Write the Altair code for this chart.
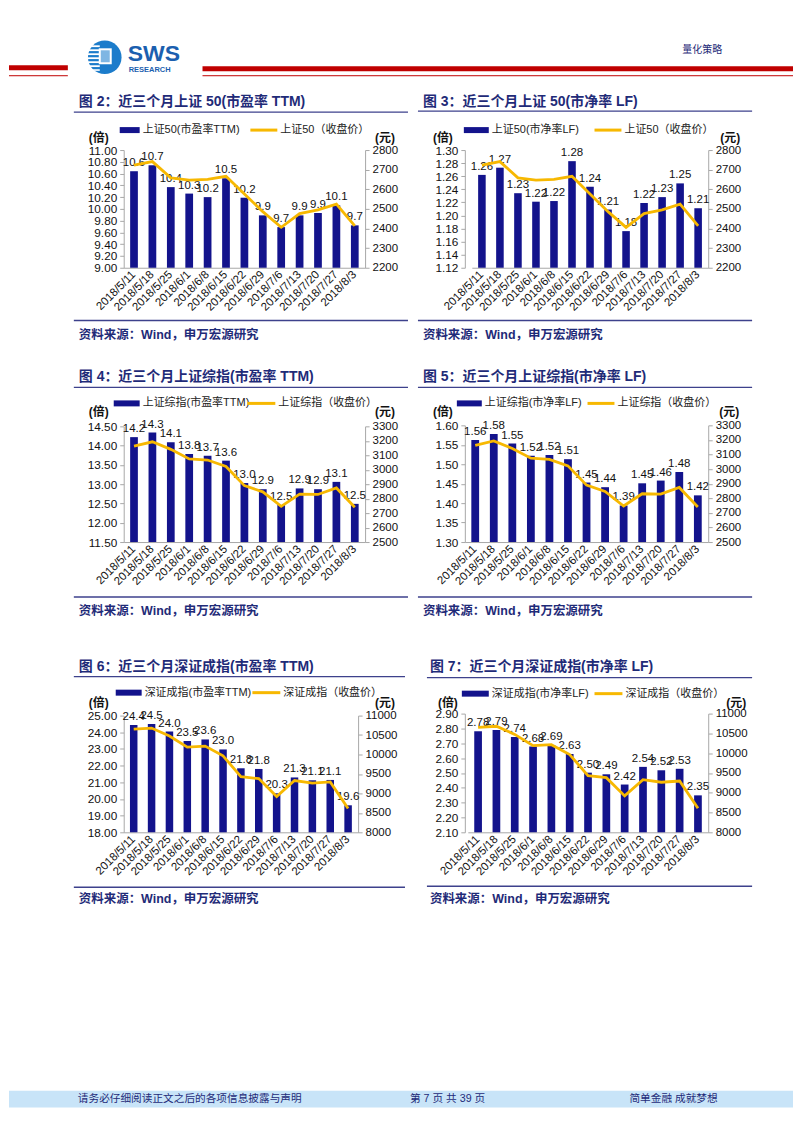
import altair as alt
import pandas as pd

# ---------------- data ----------------
dates = ["2018/5/11", "2018/5/18", "2018/5/25", "2018/6/1", "2018/6/8", "2018/6/15",
         "2018/6/22", "2018/6/29", "2018/7/6", "2018/7/13", "2018/7/20", "2018/7/27", "2018/8/3"]

sz50_close = [2723, 2741, 2658, 2647, 2650, 2666, 2576, 2486, 2406, 2476, 2495, 2524, 2413]
sh_close = [3163, 3193, 3141, 3075, 3067, 3022, 2890, 2847, 2747, 2831, 2829, 2874, 2740]
sz_close = [10650, 10680, 10475, 10190, 10215, 9965, 9430, 9380, 8920, 9330, 9265, 9295, 8610]

pe_sz50 = [10.64, 10.74, 10.37, 10.26, 10.20, 10.52, 10.19, 9.89, 9.69, 9.89, 9.93, 10.06, 9.72]
pb_sz50 = [1.262, 1.273, 1.234, 1.221, 1.222, 1.283, 1.244, 1.209, 1.176, 1.219, 1.228, 1.249, 1.211]
pe_sh = [14.22, 14.34, 14.09, 13.78, 13.74, 13.61, 13.03, 12.87, 12.46, 12.89, 12.87, 13.06, 12.49]
pb_sh = [1.562, 1.578, 1.553, 1.522, 1.524, 1.513, 1.453, 1.441, 1.394, 1.451, 1.458, 1.480, 1.420]
pe_sz = [24.43, 24.50, 24.04, 23.48, 23.57, 22.97, 21.84, 21.80, 20.34, 21.29, 21.12, 21.14, 19.62]
pb_sz = [2.781, 2.789, 2.742, 2.678, 2.688, 2.628, 2.502, 2.491, 2.422, 2.541, 2.518, 2.528, 2.349]

ticks_pe_sz50 = [9.0, 9.2, 9.4, 9.6, 9.8, 10.0, 10.2, 10.4, 10.6, 10.8, 11.0]
ticks_pb_sz50 = [1.12, 1.14, 1.16, 1.18, 1.20, 1.22, 1.24, 1.26, 1.28, 1.30]
ticks_pe_sh = [11.5, 12.0, 12.5, 13.0, 13.5, 14.0, 14.5]
ticks_pb_sh = [1.30, 1.35, 1.40, 1.45, 1.50, 1.55, 1.60]
ticks_pe_sz = [18, 19, 20, 21, 22, 23, 24, 25]
ticks_pb_sz = [2.1, 2.2, 2.3, 2.4, 2.5, 2.6, 2.7, 2.8, 2.9]
ticks_sz50 = [2200, 2300, 2400, 2500, 2600, 2700, 2800]
ticks_sh = [2500, 2600, 2700, 2800, 2900, 3000, 3100, 3200, 3300]
ticks_sz = [8000, 8500, 9000, 9500, 10000, 10500, 11000]

# ---------------- styles ----------------
NAVY = "#13138c"
GOLD = "#F7B801"
TNAVY = "#1f2b78"
RULE = "#3d418c"
AXG = "#a8a8a8"
RED = "#C00000"
LAT = "Liberation Sans"
CJK = "Liberation Sans, Noto Sans CJK SC"
ONE = alt.Data(values=[{"k": 1}])


def T(o, x, y, s, size=11, weight="normal", color="#222222", align="left", font=CJK):
    return alt.Chart(ONE).mark_text(align=align, baseline="middle", fontSize=size,
                                    fontWeight=weight, color=color, font=font).encode(
        x=alt.value(x - o[0]), y=alt.value(y - o[1]), text=alt.value(s))


def R(o, x1, x2, y, color=RULE, w=1.2):
    return alt.Chart(ONE).mark_rule(color=color, strokeWidth=w).encode(
        x=alt.value(x1 - o[0]), x2=alt.value(x2 - o[0]), y=alt.value(y - o[1]))


def B(o, x1, y1, x2, y2, color):
    return alt.Chart(ONE).mark_rect(color=color).encode(
        x=alt.value(x1 - o[0]), x2=alt.value(x2 - o[0]),
        y=alt.value(y1 - o[1]), y2=alt.value(y2 - o[1]))


def panel(p):
    o = p["origin"]
    W, H = p["size"]
    df = pd.DataFrame({"date": dates, "bar": p["bars"], "close": p["close"]})
    lo, hi = p["dom"]
    xenc = alt.X("date:N", sort=dates,
                 scale=alt.Scale(domain=dates, range=[p["left"], W], paddingInner=0.58, paddingOuter=0.35),
                 axis=alt.Axis(title=None, labelAngle=315, labelAlign="right", labelBaseline="middle",
                               ticks=False, domainColor=AXG, labelFont=LAT, labelFontSize=11.5,
                               labelColor="#111111", labelPadding=5, labelOverlap=False))
    yenc = alt.Y("bar:Q", scale=alt.Scale(domain=[lo, hi], range=[H, p["top"]], zero=False, nice=False),
                 axis=alt.Axis(title=None, values=p["ticks"], format=".2f", grid=False,
                               domainColor=AXG, tickColor=AXG, tickSize=4, labelFont=LAT,
                               labelFontSize=11.8, labelColor="#111111", labelPadding=3,
                               labelOverlap=False))
    base = alt.Chart(df).encode(x=xenc, y=yenc)
    bars = base.mark_bar(color=NAVY).encode(y2=alt.datum(lo))
    labels = base.mark_text(baseline="bottom", dy=-3, fontSize=11.5, font=LAT, color="#111111").encode(
        text=alt.Text("bar:Q", format=p["lfmt"]))
    rlo, rhi = p["rdom"]
    line = alt.Chart(df).mark_line(color=GOLD, strokeWidth=2.8).encode(
        x=xenc,
        y=alt.Y("close:Q", scale=alt.Scale(domain=[rlo, rhi], range=[H, p["top"]], zero=False, nice=False),
                axis=alt.Axis(title=None, orient="right", values=p["rticks"], format="d", grid=False,
                              domainColor=AXG, tickColor=AXG, tickSize=4, labelFont=LAT,
                              labelFontSize=11.5, labelColor="#111111", labelPadding=3,
                              labelOverlap=False)))
    d = p["deco"]
    decos = [
        T(o, d["tx"], d["ty"], d["title"], size=14, weight="bold", color=TNAVY),
        R(o, d["ux1"], d["ux2"], d["uy"]),
        B(o, d["lb"][0], d["lb"][1] - 3, d["lb"][2], d["lb"][1] + 3, NAVY),
        T(o, d["lb"][2] + 3, d["lb"][1], d["l1"], size=11),
        R(o, d["ll"][0], d["ll"][1], d["ll"][2], color=GOLD, w=3),
        T(o, d["ll"][1] + 3, d["ll"][2], d["l2"], size=11),
        T(o, d["bei"][0], d["bei"][1], "(倍)", size=12, weight="bold", color="#111111", align="center"),
        T(o, d["yuan"][0], d["yuan"][1], "(元)", size=12, weight="bold", color="#111111", align="center"),
        R(o, d["ux1"], d["ux2"], d["by"], w=1.5),
        T(o, d["tx"], d["sy"], "资料来源：Wind，申万宏源研究", size=12.5, weight="bold", color=TNAVY),
    ]
    extra = [f(o) for f in p.get("extra", [])]
    return alt.layer(bars + labels, line, *decos, *extra).resolve_scale(y="independent").properties(
        width=W, height=H)


def header(o):
    return [
        B(o, 8, 8, 9, 9, "#ffffff"),
        B(o, 8, 64, 67, 69, RED),
        R(o, 8, 67, 74.5, color=RED, w=1),
        B(o, 202, 65, 794, 70, RED),
        R(o, 202, 794, 74.5, color=RED, w=1),
        alt.Chart(ONE).mark_point(shape="circle", filled=True, size=1134, color="#1C7CCB", opacity=1).encode(
            x=alt.value(104 - o[0]), y=alt.value(56 - o[1])),
        B(o, 86, 44, 99, 45.8, "#ffffff"),
        B(o, 85, 48, 99, 49.8, "#ffffff"),
        B(o, 85, 52, 99, 53.8, "#ffffff"),
        B(o, 85, 56, 99, 57.8, "#ffffff"),
        B(o, 85, 60, 99, 61.8, "#ffffff"),
        B(o, 86, 64, 99, 65.8, "#ffffff"),
        B(o, 88, 68, 99, 69.6, "#ffffff"),
        B(o, 98, 47, 111, 63, "#ffffff"),
        B(o, 100, 49, 109, 61, "#7fb6e3"),
        T(o, 127, 52.5, "SWS", size=23, weight="bold", color="#1B5FAF", font=LAT),
        T(o, 128, 69, "RESEARCH", size=7.5, weight="bold", color="#1B5FAF", font=LAT),
        T(o, 683, 49, "量化策略", size=10, color=TNAVY),
    ]


def footer(o):
    return [
        B(o, 8, 1092, 794, 1109, "#C8E4F8"),
        T(o, 77, 1100.5, "请务必仔细阅读正文之后的各项信息披露与声明", size=10.7, color=TNAVY),
        T(o, 410, 1100.5, "第 7 页 共 39 页", size=10.7, color=TNAVY),
        T(o, 630, 1100.5, "简单金融 成就梦想", size=10.7, color=TNAVY),
    ]


panels = [
    dict(origin=(123, 149), size=(242, 118), top=0, left=0, bars=pe_sz50, close=sz50_close,
         dom=(9.0, 11.0), ticks=ticks_pe_sz50, lfmt=".1f", rdom=(2200, 2800), rticks=ticks_sz50,
         deco=dict(tx=78, ty=101, title="图 2：近三个月上证 50(市盈率 TTM)", ux1=73, ux2=408, uy=111,
                   lb=(119, 129, 139), l1="上证50(市盈率TTM)", ll=(250, 277, 129), l2="上证50（收盘价）",
                   bei=(98, 137), yuan=(385, 137), by=320, sy=334),
         extra=[lambda o: alt.layer(*header(o))]),
    dict(origin=(465, 149), size=(244, 118), top=0, left=7, bars=pb_sz50, close=sz50_close,
         dom=(1.12, 1.30), ticks=ticks_pb_sz50, lfmt=".2f", rdom=(2200, 2800), rticks=ticks_sz50,
         deco=dict(tx=423, ty=101, title="图 3：近三个月上证 50(市净率 LF)", ux1=418, ux2=753, uy=110,
                   lb=(464, 129, 489), l1="上证50(市净率LF)", ll=(595, 622, 129), l2="上证50（收盘价）",
                   bei=(443, 137), yuan=(731, 137), by=320, sy=334)),
    dict(origin=(123, 425), size=(242, 117), top=1, left=0, bars=pe_sh, close=sh_close,
         dom=(11.5, 14.5), ticks=ticks_pe_sh, lfmt=".1f", rdom=(2500, 3300), rticks=ticks_sh,
         deco=dict(tx=78, ty=377, title="图 4：近三个月上证综指(市盈率 TTM)", ux1=73, ux2=408, uy=387,
                   lb=(113, 403, 139), l1="上证综指(市盈率TTM)", ll=(247, 275, 403), l2="上证综指（收盘价）",
                   bei=(98, 412), yuan=(385, 412), by=597, sy=611)),
    dict(origin=(465, 425), size=(244, 117), top=0, left=0, bars=pb_sh, close=sh_close,
         dom=(1.30, 1.60), ticks=ticks_pb_sh, lfmt=".2f", rdom=(2500, 3300), rticks=ticks_sh,
         deco=dict(tx=423, ty=377, title="图 5：近三个月上证综指(市净率 LF)", ux1=418, ux2=753, uy=387,
                   lb=(457, 403, 482), l1="上证综指(市净率LF)", ll=(588, 615, 403), l2="上证综指（收盘价）",
                   bei=(443, 412), yuan=(730, 412), by=597, sy=611)),
    dict(origin=(123, 700), size=(235, 133), top=16, left=0, bars=pe_sz, close=sz_close,
         dom=(18, 25), ticks=ticks_pe_sz, lfmt=".1f", rdom=(8000, 11000), rticks=ticks_sz,
         deco=dict(tx=78, ty=667, title="图 6：近三个月深证成指(市盈率 TTM)", ux1=73, ux2=405, uy=677,
                   lb=(115, 693, 141), l1="深证成指(市盈率TTM)", ll=(252, 280, 693), l2="深证成指（收盘价）",
                   bei=(98, 703), yuan=(385, 703), by=888, sy=900),
         extra=[lambda o: alt.layer(*footer(o))]),
    dict(origin=(465, 700), size=(244, 133), top=14, left=3, bars=pb_sz, close=sz_close,
         dom=(2.1, 2.9), ticks=ticks_pb_sz, lfmt=".2f", rdom=(8000, 11000), rticks=ticks_sz,
         deco=dict(tx=430, ty=667, title="图 7：近三个月深证成指(市净率 LF)", ux1=427, ux2=753, uy=678,
                   lb=(462, 694, 489), l1="深证成指(市净率LF)", ll=(595, 623, 694), l2="深证成指（收盘价）",
                   bei=(448, 703), yuan=(737, 703), by=887, sy=900)),
]

charts = [panel(p) for p in panels]

chart = alt.concat(*charts, columns=2, spacing={"row": 158, "column": 100}, bounds="flush").properties(
    padding=0, background="white").configure_view(stroke=None)

chart.save("out.html", embed_options={"renderer": "svg", "actions": False})
